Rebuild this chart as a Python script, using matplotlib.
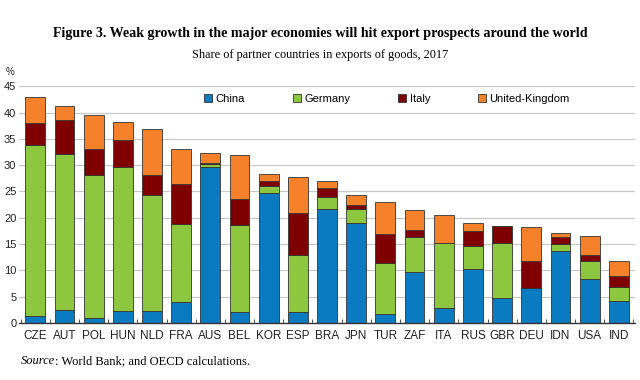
import numpy as np
import matplotlib
matplotlib.use('Agg')
import matplotlib.pyplot as plt
from matplotlib.ticker import MultipleLocator

# segment sizes (stack order: China, Germany, Italy, UK)
countries = ['CZE', 'AUT', 'POL', 'HUN', 'NLD', 'FRA', 'AUS', 'BEL', 'KOR', 'ESP', 'BRA',
             'JPN', 'TUR', 'ZAF', 'ITA', 'RUS', 'GBR', 'DEU', 'IDN', 'USA', 'IND']
china = [1.3, 2.5, 1.0, 2.2, 2.3, 4.0, 29.6, 2.0, 24.8, 2.0, 21.7,
         19.0, 1.7, 9.7, 2.9, 10.3, 4.7, 6.6, 13.6, 8.3, 4.1]
germany = [32.6, 29.7, 27.1, 27.4, 22.0, 14.8, 0.6, 16.6, 1.3, 11.0, 2.2,
           2.6, 9.7, 6.6, 12.4, 4.4, 10.5, 0.0, 1.5, 3.4, 2.7]
italy = [4.2, 6.4, 5.0, 5.2, 3.9, 7.6, 0.3, 5.0, 0.8, 8.0, 1.8,
         0.8, 5.5, 1.3, 0.0, 2.8, 3.2, 5.2, 1.3, 1.3, 2.1]
uk = [4.8, 2.6, 6.4, 3.5, 8.6, 6.7, 1.9, 8.4, 1.4, 6.7, 1.2,
      1.9, 6.1, 3.9, 5.2, 1.5, 0.0, 6.4, 0.7, 3.6, 2.9]

series = [('China', china, '#0B7BC1'),
          ('Germany', germany, '#8DC63F'),
          ('Italy', italy, '#7F0000'),
          ('United-Kingdom', uk, '#F5822A')]

plt.rcParams['font.family'] = ['Liberation Sans', 'DejaVu Sans']

fig = plt.figure(figsize=(6.4, 3.8), dpi=100)
ax = fig.add_axes([0.03, 0.15, 0.962, 0.623])

x = np.arange(len(countries))
bottom = np.zeros(len(countries))
for name, vals, col in series:
    vals = np.array(vals)
    ax.bar(x, vals, 0.68, bottom=bottom, color=col, edgecolor='#333333',
           linewidth=0.6, label=name, zorder=3)
    bottom += vals

ax.set_ylim(0, 45)
ax.set_xlim(-0.55, len(countries) - 0.45)
ax.yaxis.set_major_locator(MultipleLocator(5))
ax.grid(axis='y', color='#c8c8c8', linewidth=0.9, zorder=0)
ax.set_xticks(x)
ax.set_xticklabels(countries, fontsize=8.5, color='#222222')
ax.set_xticks(np.arange(len(countries) + 1) - 0.5, minor=True)
ax.tick_params(axis='x', which='major', length=0, pad=5)
ax.tick_params(axis='x', which='minor', length=3, direction='in', color='#333333')
ax.tick_params(axis='y', length=0, labelsize=8, colors='#222222', pad=2)
for s in ['top', 'right', 'left']:
    ax.spines[s].set_visible(False)
ax.spines['bottom'].set_color('#333333')
ax.spines['bottom'].set_linewidth(1.0)
ax.spines['bottom'].set_zorder(4)

ax.legend(loc='center', bbox_to_anchor=(0.597, 0.945), ncol=4, frameon=False,
          fontsize=8, handlelength=0.75, handleheight=0.75, handletextpad=0.3,
          columnspacing=4.3, borderpad=0)

fig.text(0.5, 0.913, 'Figure 3. Weak growth in the major economies will hit export prospects around the world',
         ha='center', va='center', fontsize=10.1, fontweight='bold', family='Liberation Serif')
fig.text(0.5, 0.855, 'Share of partner countries in exports of goods, 2017',
         ha='center', va='center', fontsize=8.8, family='Liberation Serif')
fig.text(0.009, 0.81, '%', ha='left', va='center', fontsize=7, color='#222222')
src = fig.text(0.032, 0.05, 'Source', ha='left', va='center', fontsize=9,
               family='Liberation Serif', style='italic')
fig.canvas.draw()
bb = src.get_window_extent()
fig.text(bb.x1 / fig.bbox.width, 0.05, ': World Bank; and OECD calculations.', ha='left', va='center',
         fontsize=9, family='Liberation Serif')

fig.savefig('out.png', dpi=100)
